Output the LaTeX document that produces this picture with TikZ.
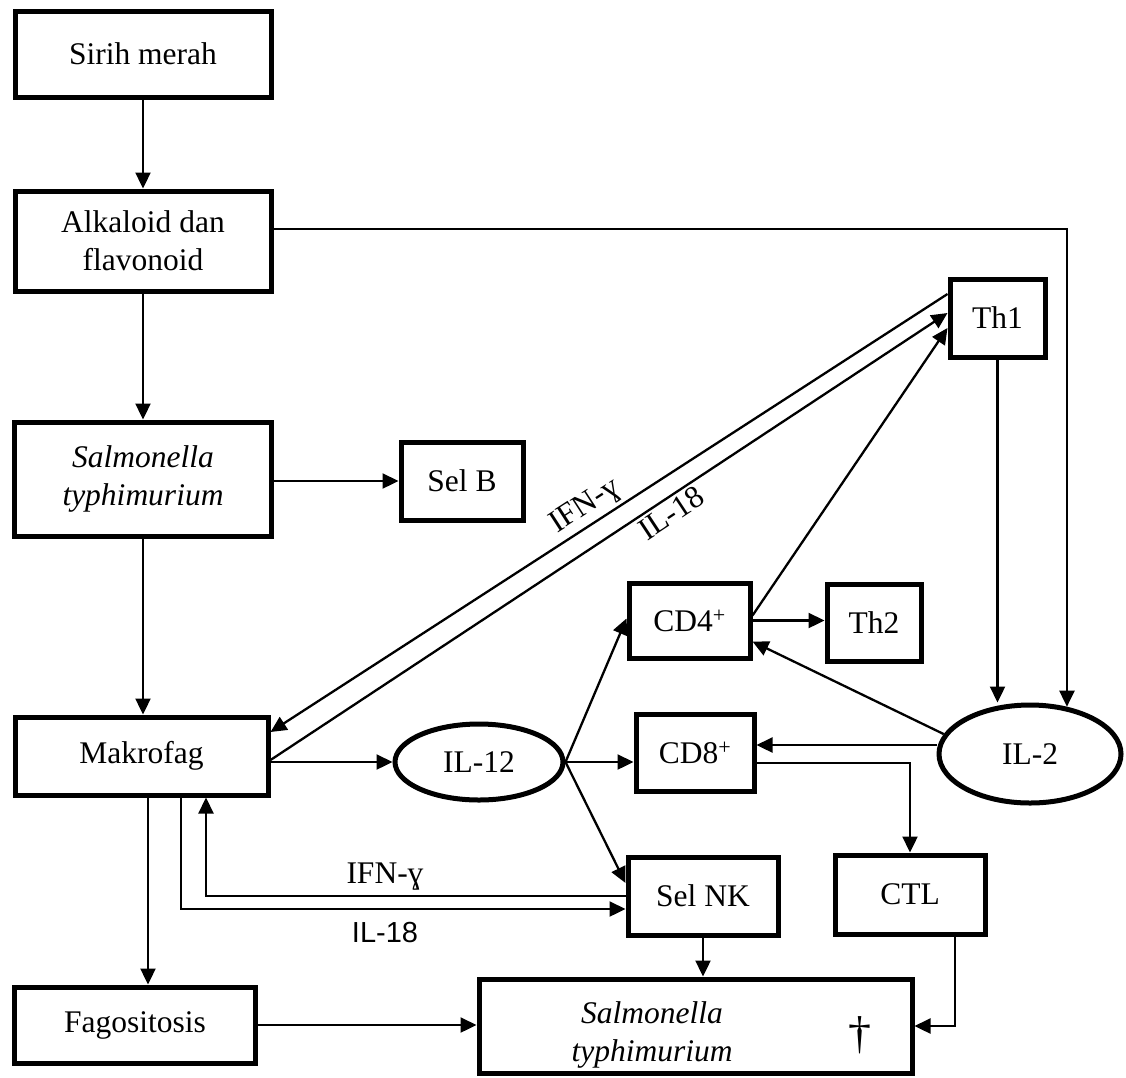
\documentclass[tikz,border=0pt]{standalone}
\usepackage{fontspec}
\setmainfont{Liberation Serif}
\newfontfamily\sansf{Liberation Sans}
\usetikzlibrary{arrows.meta,shapes.geometric,calc}
\begin{document}
\begin{tikzpicture}[x=1pt,y=-1pt,
  box/.style={draw, line width=5pt, rectangle, align=center, inner sep=0pt, font=\fontsize{31.5}{38}\selectfont},
  oval/.style={draw, line width=5pt, ellipse, inner sep=0pt, font=\fontsize{31.5}{38}\selectfont},
  con/.style={line width=2.3pt, -{Triangle[length=16pt,width=15pt]}},
  lab/.style={font=\fontsize{31.5}{38}\selectfont, inner sep=3pt, align=center}]
\useasboundingbox (0,0) rectangle (1126,1077);

% nodes
\node[box, minimum width=256pt, minimum height=86pt] (sirih) at (143,54) {Sirih merah};
\node[box, minimum width=256pt, minimum height=100pt] (alk) at (143,241) {Alkaloid dan\\flavonoid};
\node[box, minimum width=257pt, minimum height=114pt] (salm1) at (143,479) {\textit{Salmonella}\\\textit{typhimurium}};
\node[box, minimum width=122pt, minimum height=78pt] (selB) at (462,481) {Sel B};
\node[box, minimum width=253pt, minimum height=78pt] (makro) at (141.5,756) {Makrofag};
\node[box, minimum width=241pt, minimum height=76pt] (fago) at (135,1025) {Fagositosis};
\node[box, minimum width=95pt, minimum height=78pt] (th1) at (997.5,318) {Th1};
\node[box, minimum width=121pt, minimum height=75pt] (cd4) at (689.5,620.5) {CD4\textsuperscript{+}};
\node[box, minimum width=94pt, minimum height=77pt] (th2) at (874,622.5) {Th2};
\node[box, minimum width=118pt, minimum height=77pt] (cd8) at (695,752.5) {CD8\textsuperscript{+}};
\node[oval, minimum width=168pt, minimum height=76pt] (il12) at (479,762) {IL-12};
\node[oval, minimum width=182pt, minimum height=98pt] (il2) at (1030,754) {IL-2};
\node[box, minimum width=150pt, minimum height=78pt] (selnk) at (703,896) {Sel NK};
\node[box, minimum width=150pt, minimum height=79pt] (ctl) at (910,894.5) {CTL};
\node[box, minimum width=433pt, minimum height=94pt] (salm2) at (695.5,1026) {};
\node[lab] (salm2txt) at (652,1035) {\textit{Salmonella}\\\textit{typhimurium}};
\node[font=\fontsize{46}{50}\selectfont, inner sep=0pt] (dag) at (860,1035) {†};

% connectors
\draw[con] (sirih.south) -- (sirih.south |- alk.north);
\draw[con] (alk.south) -- (alk.south |- salm1.north);
\draw[con] (salm1.east |- selB.west) -- (selB.west);
\draw[con] (salm1.south) -- (salm1.south |- makro.north);
\draw[con] ($(alk.east)+(0,-12)$) -| (il2.52);
\draw[con] (th1.south) -- (th1.south |- il2.north);

\draw[con] ($(th1.west)+(0,-24)$) -- node[lab, sloped, above, pos=0.52]{IFN-ɣ} ($(makro.east)+(0,-24)$);
\draw[con] ($(makro.east)+(0,4)$) -- node[lab, sloped, below, pos=0.58]{IL-18} ($(th1.west)+(0,-5)$);
\draw[con] ($(cd4.east)+(0,-5)$) -- ($(th1.west)+(0,10)$);

\draw[con] (makro.east |- il12.west) -- (il12.west);
\draw[con] (il12.east) -- ($(cd4.west)+(0,-2)$);
\draw[con] (il12.east) -- (il12.east -| cd8.west);
\draw[con] (il12.east) -- ($(selnk.west)+(0,-13)$);
\draw[con] (cd4.east) -- (cd4.east -| th2.west);
\draw[con] (il2.167) -- ($(cd4.east)+(0,21)$);
\draw[con] ($(il2.west)+(0,-9)$) -- ($(cd8.east)+(0,-7.5)$);
\draw[con] ($(cd8.east)+(0,10.5)$) -| (ctl.north);
\draw[con] ($(ctl.south)+(45,0)$) |- (salm2.east);
\draw[con] (selnk.south) -- (selnk.south |- salm2.north);
\draw[con] (fago.east) -- (fago.east -| salm2.west);

\coordinate (mf) at ($(makro.south)+(6.5,0)$);
\coordinate (mi) at ($(makro.south)+(64.5,0)$);
\coordinate (ml) at ($(makro.south)+(39.5,0)$);
\draw[con] (mf) -- (mf |- fago.north);
\draw[con] (selnk.west) -| (mi);
\draw[con] (ml) |- ($(selnk.west)+(0,13)$);

\node[lab] (ifnb) at (385,877) {IFN-ɣ};
\node[lab, font=\sansf\fontsize{29}{34}\selectfont] (il18b) at (385,932) {IL-18};
\end{tikzpicture}
\end{document}
